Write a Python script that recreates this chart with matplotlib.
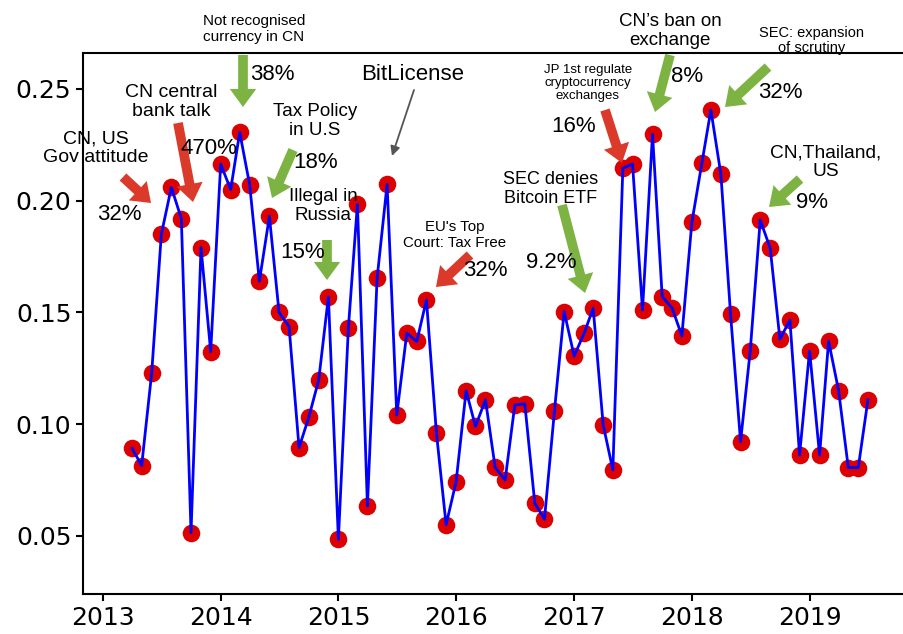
import matplotlib
matplotlib.use('Agg')
import matplotlib.pyplot as plt
import matplotlib.dates as mdates
import pandas as pd
from datetime import datetime

# monthly values, Apr 2013 .. Jul 2019
months = pd.date_range('2013-04-01', periods=76, freq='MS')
values = [
    0.0892, 0.0815, 0.1228, 0.1850, 0.2060, 0.1920, 0.0515, 0.1790, 0.1325,
    0.2164, 0.2050, 0.2306, 0.2070, 0.1640, 0.1930, 0.1500, 0.1437, 0.0895, 0.1030, 0.1198, 0.1570,
    0.0485, 0.1432, 0.1985, 0.0634, 0.1653, 0.2073, 0.1041, 0.1407, 0.1370, 0.1556, 0.0960, 0.0550,
    0.0743, 0.1150, 0.0990, 0.1109, 0.0807, 0.0750, 0.1086, 0.1091, 0.0646, 0.0575, 0.1060, 0.1504,
    0.1305, 0.1407, 0.1519, 0.0997, 0.0795, 0.2145, 0.2164, 0.1511, 0.2297, 0.1571, 0.1519, 0.1395,
    0.1903, 0.2168, 0.2406, 0.2118, 0.1492, 0.0922, 0.1328, 0.1914, 0.1787, 0.1380, 0.1466, 0.0862,
    0.1328, 0.0862, 0.1372, 0.1150, 0.0806, 0.0806, 0.1109,
]
yticks = [0.05, 0.10, 0.15, 0.20, 0.25]

W, H = 904, 634
RED = '#db3a2b'
GREEN = '#7cb342'

fig = plt.figure(figsize=(W / 100, H / 100), dpi=100)
# right edge of the axes runs past the canvas, as in the original crop
ax = fig.add_axes([83.3 / W, 40 / H, (W + 12 - 83.3) / W, 541 / H])

ax.scatter(months, values, s=160, color='#dd0000', linewidths=0, zorder=2)
ax.plot(months, values, color='blue', lw=2, zorder=3)

ax.set_xlim(datetime(2012, 11, 1), datetime(2019, 11, 27))
ax.set_ylim(0.024, 0.2661)
ax.xaxis.set_major_locator(mdates.YearLocator())
ax.xaxis.set_major_formatter(mdates.DateFormatter('%Y'))
ax.set_yticks(yticks)
ax.tick_params(labelsize=18, length=5, width=1.5)
for sp in ax.spines.values():
    sp.set_linewidth(1.5)


def note(txt, x, y, size):
    fig.text(x / W, 1 - y / H, txt, fontsize=size, family='Liberation Sans',
             ha='center', va='center', linespacing=1.15)


def block(x0, y0, x1, y1, color):
    ax.annotate('', xy=(x1, H - y1), xytext=(x0, H - y0),
                xycoords='figure pixels', textcoords='figure pixels',
                arrowprops=dict(facecolor=color, edgecolor='none', width=7,
                                headwidth=19, headlength=13, shrink=0))


note('CN, US\nGov attitude', 96, 148, 14)
block(123, 177, 151, 203, RED)
note('32%', 119, 215, 16)

note('CN central\nbank talk', 171, 102, 14)
block(178, 123, 193, 202, RED)
note('470%', 209, 149, 16)

note('Not recognised\ncurrency in CN', 254, 29, 11)
block(243, 55, 243, 107, GREEN)
note('38%', 272, 75, 16)

note('Tax Policy\nin U.S', 315, 121, 13.5)
block(293, 150, 272, 198, GREEN)
note('18%', 316, 163, 16)

note('Illegal in\nRussia', 323, 206, 13.5)
block(327, 240, 327, 280, GREEN)
note('15%', 303, 253, 16)

note('BitLicense', 413, 75, 16)
ax.annotate('', xy=(392, H - 156), xytext=(414, H - 90),
            xycoords='figure pixels', textcoords='figure pixels',
            arrowprops=dict(arrowstyle='-|>', color='#555555', lw=1.3,
                            mutation_scale=14, shrinkA=0, shrinkB=0))

note("EU's Top\nCourt: Tax Free", 455, 235, 10.8)
block(470, 255, 436, 287, RED)
note('32%', 485, 271, 16)

note('SEC denies\nBitcoin ETF', 551, 189, 13)
block(562, 205, 585, 293, GREEN)
note('9.2%', 551, 262, 16)

note('JP 1st regulate\ncryptocurrency\nexchanges', 588, 83, 9.5)
block(605, 110, 622, 163, RED)
note('16%', 574, 127, 16)

note('CN\u2019s ban on\nexchange', 670, 31, 13.5)
block(670, 55, 655, 112, GREEN)
note('8%', 687, 77, 16)

note('SEC: expansion\nof scrutiny', 812, 40.5, 10.5)
block(768, 67, 725, 107, GREEN)
note('32%', 780, 93, 16)

note('CN,Thailand,\nUS', 826, 162, 13.8)
block(800, 179, 769, 207, GREEN)
note('9%', 812, 203, 16)

fig.savefig('out.png', dpi=100)
